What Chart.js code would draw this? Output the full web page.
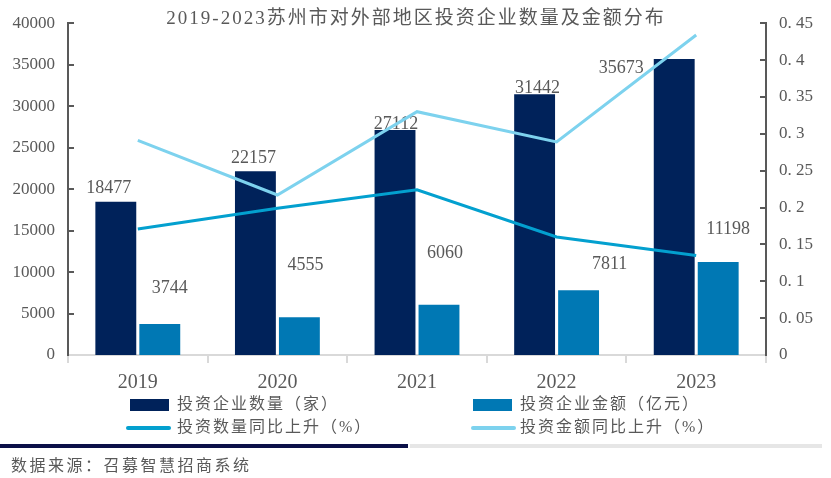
<!DOCTYPE html>
<html>
<head>
<meta charset="utf-8">
<script src="https://cdn.jsdelivr.net/npm/chart.js@4/dist/chart.umd.min.js"></script>
<style>
  body { margin: 0; background: #fff; }
  #wrap { width: 831px; height: 478px; }
</style>
</head>
<body>
<div id="wrap"><canvas id="c" width="831" height="478"></canvas></div>
<script>
const years = ['2019', '2020', '2021', '2022', '2023'];
const firmCount = [18477, 22157, 27112, 31442, 35673];
const investAmount = [3744, 4555, 6060, 7811, 11198];
const countGrowth = [0.171, 0.199, 0.224, 0.160, 0.135];
const amountGrowth = [0.291, 0.217, 0.330, 0.289, 0.434];
const leftTicks = [0, 5000, 10000, 15000, 20000, 25000, 30000, 35000, 40000];
const rightTicks = [0, 0.05, 0.1, 0.15, 0.2, 0.25, 0.3, 0.35, 0.4, 0.45];

// label offsets relative to bar top (style only)
const countLabelOffset = [[-7, -13], [-2, -13], [1, -6], [3, -6], [-53, 9]];
const amountLabelOffset = [[10, -36], [6, -52], [6, -51], [31, -26], [10, -33]];

const SERIF = '"Liberation Serif", "Noto Sans CJK SC", serif';
const GREY = '#595959';

const labelPlugin = {
    id: 'barLabels',
    afterDatasetDraw(chart, args) {
        if (args.index > 1) return;
        const ctx = chart.ctx;
        const vals = args.index === 0 ? firmCount : investAmount;
        const offs = args.index === 0 ? countLabelOffset : amountLabelOffset;
        ctx.save();
        ctx.font = '18px ' + SERIF;
        ctx.fillStyle = GREY;
        ctx.textAlign = 'center';
        ctx.textBaseline = 'middle';
        args.meta.data.forEach((bar, i) => {
            ctx.fillText(String(vals[i]), bar.x + offs[i][0], bar.y + offs[i][1]);
        });
        ctx.restore();
    }
};

const decorPlugin = {
    id: 'decor',
    afterDraw(chart) {
        const ctx = chart.ctx;
        const y = chart.scales.y, y1 = chart.scales.y1;
        ctx.save();
        // inward tick marks on both value axes
        ctx.strokeStyle = GREY;
        ctx.lineWidth = 2;
        leftTicks.forEach(v => {
            const py = Math.round(y.getPixelForValue(v));
            if (v === 0) return;
            ctx.beginPath(); ctx.moveTo(y.right, py); ctx.lineTo(y.right + 6, py); ctx.stroke();
        });
        rightTicks.forEach(v => {
            const py = Math.round(y1.getPixelForValue(v));
            if (v === 0) return;
            ctx.beginPath(); ctx.moveTo(y1.left, py); ctx.lineTo(y1.left - 6, py); ctx.stroke();
        });

        // title
        ctx.fillStyle = GREY;
        ctx.font = '19px ' + SERIF;
        ctx.letterSpacing = '2px';
        ctx.textAlign = 'center';
        ctx.textBaseline = 'middle';
        ctx.fillText('2019-2023苏州市对外部地区投资企业数量及金额分布', 416, 19);

        // legend
        const ds = chart.data.datasets;
        ctx.font = '16px ' + SERIF;
        ctx.letterSpacing = '2px';
        ctx.textAlign = 'left';
        const items = [
            { x: 130, y: 405, d: ds[0], box: true },
            { x: 473, y: 405, d: ds[1], box: true },
            { x: 128, y: 428, d: ds[2], box: false },
            { x: 473, y: 428, d: ds[3], box: false }
        ];
        items.forEach(it => {
            if (it.box) {
                ctx.fillStyle = it.d.backgroundColor;
                ctx.fillRect(it.x, it.y - 6, 39, 12);
            } else {
                ctx.strokeStyle = it.d.borderColor;
                ctx.lineWidth = 4;
                ctx.lineCap = 'round';
                ctx.beginPath(); ctx.moveTo(it.x, it.y); ctx.lineTo(it.x + 41, it.y); ctx.stroke();
            }
            ctx.fillStyle = GREY;
            ctx.fillText(it.d.label, 177 + (it.x > 300 ? 343 : 0), it.y);
        });

        // bottom separator
        ctx.fillStyle = '#0b1048';
        ctx.fillRect(0, 444, 408, 4);
        ctx.fillStyle = '#e6e6e6';
        ctx.fillRect(410, 444, 412, 4);

        // source
        ctx.fillStyle = GREY;
        ctx.font = '16px ' + SERIF;
        ctx.letterSpacing = '2.5px';
        ctx.fillText('数据来源：召募智慧招商系统', 11, 467);
        ctx.restore();
    }
};

new Chart(document.getElementById('c'), {
    type: 'bar',
    data: {
        labels: years,
        datasets: [
            { label: '投资企业数量（家）', data: firmCount, backgroundColor: '#00225a', yAxisID: 'y', order: 2,
              categoryPercentage: 0.63, barPercentage: 0.93 },
            { label: '投资企业金额（亿元）', data: investAmount, backgroundColor: '#0078b4', yAxisID: 'y', order: 2,
              categoryPercentage: 0.63, barPercentage: 0.93 },
            { type: 'line', label: '投资数量同比上升（%）', data: countGrowth, borderColor: '#03a0cf', borderWidth: 3,
              pointRadius: 0, tension: 0, yAxisID: 'y1', order: 1 },
            { type: 'line', label: '投资金额同比上升（%）', data: amountGrowth, borderColor: '#7dd2ee', borderWidth: 3,
              pointRadius: 0, tension: 0, yAxisID: 'y1', order: 1 }
        ]
    },
    options: {
        responsive: false,
        animation: false,
        layout: { padding: { top: 16, left: 0, right: 0, bottom: 0 } },
        plugins: { legend: { display: false }, title: { display: false }, tooltip: { enabled: false } },
        scales: {
            x: {
                offset: true,
                grid: { offset: true, drawOnChartArea: false, color: '#d9d9d9', lineWidth: 2, tickLength: 8 },
                border: { color: '#d9d9d9', width: 2 },
                ticks: { color: GREY, font: { size: 20, family: SERIF }, padding: 8 },
                afterFit: s => { s.height = 123; }
            },
            y: {
                position: 'left', min: 0, max: 40000,
                afterBuildTicks: s => { s.ticks = leftTicks.map(v => ({ value: v })); },
                grid: { display: false, drawTicks: false },
                border: { color: GREY, width: 2 },
                ticks: { color: GREY, font: { size: 17, family: SERIF }, padding: 13,
                         callback: v => String(v) },
                afterFit: s => { s.width = 68; }
            },
            y1: {
                position: 'right', min: 0, max: 0.45,
                afterBuildTicks: s => { s.ticks = rightTicks.map(v => ({ value: v })); },
                grid: { display: false, drawTicks: false },
                border: { color: GREY, width: 2 },
                ticks: { color: GREY, font: { size: 17, family: SERIF }, padding: 13,
                         callback: v => String(Math.round(v * 100) / 100).replace('.', '. ') },
                afterFit: s => { s.width = 65; }
            }
        }
    },
    plugins: [labelPlugin, decorPlugin]
});
</script>
</body>
</html>
